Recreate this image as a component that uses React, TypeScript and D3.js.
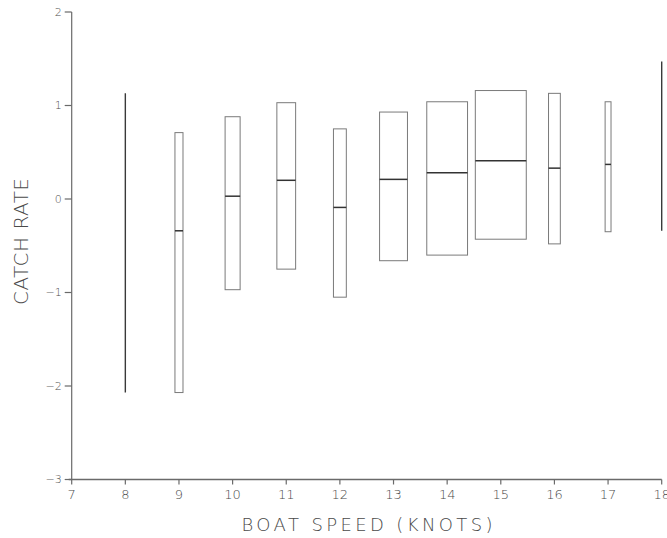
import React from "react";
import * as d3 from "d3";

// Boat speed categories (knots)
const speeds = [8, 9, 10, 11, 12, 13, 14, 15, 16, 17, 18];
// Upper quartile, median, lower quartile of catch rate
const q3 = [1.13, 0.71, 0.88, 1.03, 0.75, 0.93, 1.04, 1.16, 1.13, 1.04, 1.47];
const medians = [null, -0.34, 0.03, 0.2, -0.09, 0.21, 0.28, 0.41, 0.33, 0.37, null];
const q1 = [-2.07, -2.07, -0.97, -0.75, -1.05, -0.66, -0.6, -0.43, -0.48, -0.35, -0.34];
// Box widths in knots (proportional to group size)
const boxWidths = [0, 0.15, 0.28, 0.35, 0.24, 0.52, 0.76, 0.95, 0.22, 0.11, 0];

const xTicks = [7, 8, 9, 10, 11, 12, 13, 14, 15, 16, 17, 18];
const yTicks = [-3, -2, -1, 0, 1, 2];

const W = 667;
const H = 538;

export default function App() {
  const x = d3.scaleLinear().domain([7, 18]).range([71.7, 661.7]);
  const y = d3.scaleLinear().domain([-3, 2]).range([479.5, 12]);
  const font = "'DejaVu Sans', 'Liberation Sans', sans-serif";
  const axisColor = "#6a6a6a";
  const boxColor = "#7a7a7a";
  const textColor = "#4a4a4a";

  return (
    <svg
      width={W}
      height={H}
      style={{ position: "absolute", left: 0, top: 0, background: "#fff" }}
    >
      {/* axes */}
      <line x1={x(7)} x2={x(7)} y1={y(2)} y2={y(-3)} stroke={axisColor} strokeWidth={1.2} />
      <line x1={x(7) - 3} x2={x(18)} y1={y(-3)} y2={y(-3)} stroke={axisColor} strokeWidth={1.4} />
      {yTicks.map((t) => (
        <g key={"yt" + t}>
          <line x1={x(7) - 7} x2={x(7)} y1={y(t)} y2={y(t)} stroke={axisColor} strokeWidth={1.2} />
          <text
            x={x(7) - 10}
            y={y(t)}
            dy="0.35em"
            textAnchor="end"
            fontFamily={font}
            fontWeight={300}
            fontSize={11}
            fill={textColor}
          >
            {t < 0 ? "\u2212" + Math.abs(t) : String(t)}
          </text>
        </g>
      ))}
      {xTicks.map((t) => (
        <g key={"xt" + t}>
          <line x1={x(t)} x2={x(t)} y1={y(-3)} y2={y(-3) + 5} stroke={axisColor} strokeWidth={1.2} />
          <text
            x={x(t)}
            y={499}
            textAnchor="middle"
            fontFamily={font}
            fontWeight={300}
            fontSize={13}
            fill={textColor}
          >
            {t}
          </text>
        </g>
      ))}

      {/* boxes */}
      {speeds.map((s, i) => {
        const w = boxWidths[i];
        const med = medians[i];
        if (w === 0) {
          return (
            <line
              key={"b" + s}
              x1={x(s)}
              x2={x(s)}
              y1={y(q3[i])}
              y2={y(q1[i])}
              stroke="#3a3a3a"
              strokeWidth={1.4}
            />
          );
        }
        const x0 = x(s - w / 2);
        const x1 = x(s + w / 2);
        return (
          <g key={"b" + s}>
            <rect
              x={x0}
              y={y(q3[i])}
              width={x1 - x0}
              height={y(q1[i]) - y(q3[i])}
              fill="none"
              stroke={boxColor}
              strokeWidth={1}
            />
            {med !== null && (
              <line x1={x0} x2={x1} y1={y(med)} y2={y(med)} stroke="#333" strokeWidth={1.5} />
            )}
          </g>
        );
      })}

      {/* axis titles */}
      <text
        x={367}
        y={531}
        textAnchor="middle"
        fontFamily={font}
        fontWeight={300}
        fontSize={18}
        fill={textColor}
        textLength={251}
        lengthAdjust="spacing"
      >
        BOAT SPEED (KNOTS)
      </text>
      <text
        transform={`translate(28,241.5) rotate(-90)`}
        textAnchor="middle"
        fontFamily={font}
        fontWeight={300}
        fontSize={20}
        fill={textColor}
        textLength={127}
        lengthAdjust="spacing"
      >
        CATCH RATE
      </text>
    </svg>
  );
}
